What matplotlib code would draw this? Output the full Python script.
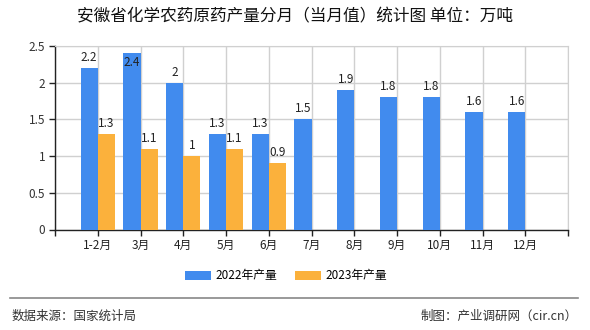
import matplotlib
matplotlib.use("Agg")
import matplotlib.pyplot as plt
import numpy as np

plt.rcParams['font.family'] = ['Noto Sans CJK SC', 'DejaVu Sans']

months = ["1-2月", "3月", "4月", "5月", "6月", "7月", "8月", "9月", "10月", "11月", "12月"]
prod_2022 = [2.2, 2.4, 2.0, 1.3, 1.3, 1.5, 1.9, 1.8, 1.8, 1.6, 1.6]
prod_2023 = [1.3, 1.1, 1.0, 1.1, 0.9]
yticks = [0, 0.5, 1, 1.5, 2, 2.5]
ytick_labels = ["0", "0.5", "1", "1.5", "2", "2.5"]

blue = "#418BEE"
orange = "#FBB13C"

fig = plt.figure(figsize=(5.9, 3.3), dpi=100)
ax = fig.add_axes([55 / 590, 1 - 229.5 / 330, 513 / 590, 183.5 / 330])

x = np.arange(len(months))
w = 0.4
b1 = ax.bar(x[:len(prod_2022)] - w / 2, prod_2022, w, color=blue, label="2022年产量", zorder=3)
b2 = ax.bar(x[:len(prod_2023)] + w / 2, prod_2023, w, color=orange, label="2023年产量", zorder=3)


def fmt(v):
    return ("%.1f" % v).rstrip("0").rstrip(".")


for bars, vals in ((b1, prod_2022), (b2, prod_2023)):
    for rect, v in zip(bars, vals):
        cx = rect.get_x() + rect.get_width() / 2
        if v > 2.3:
            ax.annotate(fmt(v), (cx, v), xytext=(0, -2), textcoords="offset points",
                        ha="center", va="top", fontsize=8.5, color="#222222", zorder=4)
        else:
            ax.annotate(fmt(v), (cx, v), xytext=(0, 3), textcoords="offset points",
                        ha="center", va="bottom", fontsize=8.5, color="#222222", zorder=4)

ax.set_xlim(-1, len(months))
ax.set_ylim(0, 2.5)
ax.set_yticks(yticks)
ax.set_yticklabels(ytick_labels, fontsize=8.5, color="#333333")
ax.set_xticks(np.arange(-1, len(months) + 1))
ax.set_xticklabels([""] + months + [""], fontsize=8.5, color="#222222")
ax.tick_params(axis="both", length=4, width=1, color="#222222", pad=3)

ax.grid(True, color="#d0d0d0", linewidth=1, zorder=0)
ax.set_axisbelow(True)
for s in ("top", "right"):
    ax.spines[s].set_color("#d0d0d0")
for s in ("left", "bottom"):
    ax.spines[s].set_color("#222222")
    ax.spines[s].set_linewidth(1)

fig.text(0.5, 1 - 17 / 330, "安徽省化学农药原药产量分月（当月值）统计图 单位：万吨",
         ha="center", va="center", fontsize=12, color="#111111")

fig.legend(handles=[b1, b2], loc="center", bbox_to_anchor=(0.485, 1 - 276 / 330),
           ncol=2, frameon=False, fontsize=8.5, handlelength=2.2, handleheight=0.9,
           columnspacing=1.5, handletextpad=0.4)

fig.add_artist(plt.Line2D([10 / 590, 578 / 590], [1 - 298 / 330, 1 - 298 / 330],
                          color="#888888", linewidth=1.2))
fig.text(12 / 590, 1 - 316 / 330, "数据来源：国家统计局", ha="left", va="center",
         fontsize=9, color="#333333")
fig.text(578 / 590, 1 - 316 / 330, "制图：产业调研网（cir.cn）", ha="right", va="center",
         fontsize=9, color="#333333")

fig.savefig("out.png", dpi=100)
